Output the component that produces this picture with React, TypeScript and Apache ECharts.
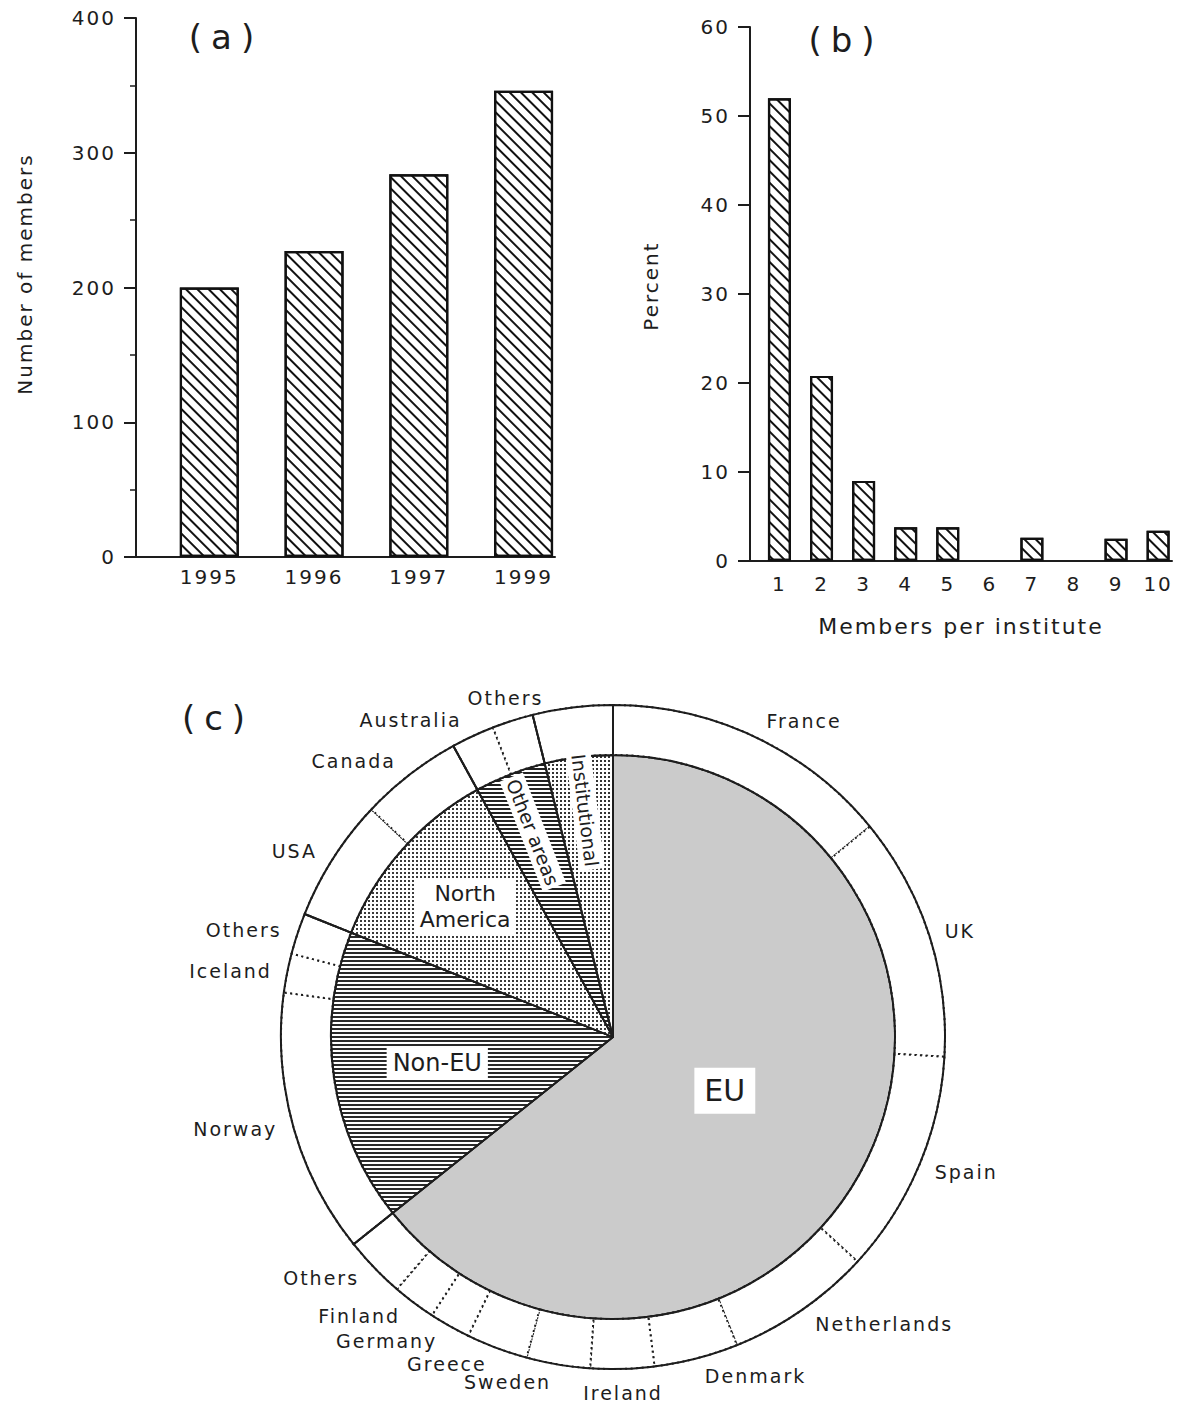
import React, { useEffect, useRef } from 'react';
import * as echarts from 'echarts';

// ---------- Panel (a) ----------
const yearCategories = ['1995', '1996', '1997', '1999'];
const membersByYear = [200, 227, 284, 346];
const membersTicks = [0, 100, 200, 300, 400];

// ---------- Panel (b) ----------
const membersPerInstitute = ['1', '2', '3', '4', '5', '6', '7', '8', '9', '10'];
const percentInstitutes = [52, 20.8, 9, 3.8, 3.8, 0, 2.6, 0, 2.5, 3.4];

// ---------- Panel (c) ----------
const countryNames = [
  'France', 'UK', 'Spain', 'Netherlands', 'Denmark', 'Ireland', 'Sweden', 'Greece',
  'Germany', 'Finland', 'Others',
  'Norway', 'Iceland', 'Others',
  'USA', 'Canada',
  'Australia', 'Others',
  'Institutional',
];
const countryShares = [
  14.1, 11.9, 10.9, 7.1, 4.1, 3.1, 3.1, 3.0, 2.0, 2.1, 3.0,
  12.9, 1.9, 2.0,
  6.0, 5.0,
  2.1, 2.0,
  3.9,
];
const countryGroup = [
  'EU', 'EU', 'EU', 'EU', 'EU', 'EU', 'EU', 'EU', 'EU', 'EU', 'EU',
  'Non-EU', 'Non-EU', 'Non-EU',
  'North America', 'North America',
  'Other areas', 'Other areas',
  'Institutional',
];
const groupNames = ['EU', 'Non-EU', 'North America', 'Other areas', 'Institutional'];
const groupLabels = ['EU', 'Non-EU', 'North\nAmerica', 'Other areas', 'Institutional'];
const groupShares = groupNames.map((g) =>
  countryShares.reduce((s, v, i) => (countryGroup[i] === g ? s + v : s), 0)
);

export default function App() {
  const ref = useRef<HTMLDivElement>(null);

  useEffect(() => {
    const el = ref.current;
    if (!el) return;
    const chart = echarts.init(el, null, { renderer: 'svg' });

    const FONT = '"DejaVu Sans", "Noto Sans", sans-serif';
    const INK = '#1d1d1d';
    const CX = 613;
    const CY = 1037;
    const R_IN = 282;
    const R_OUT = 332;

    const hatch = {
      symbol: 'rect',
      symbolSize: 1,
      dashArrayX: [1, 0],
      dashArrayY: [1.8, 5.6],
      rotation: Math.PI / 4,
      color: '#111',
    };

    const groupFill = ['#cbcbcb', '#ffffff', '#ffffff', '#ffffff', '#ffffff'];
    const groupDecal: any[] = [
      undefined,
      { symbol: 'rect', symbolSize: 1, dashArrayX: [1, 0], dashArrayY: [2, 1.8], rotation: 0, color: '#2a2a2a' },
      { symbol: 'rect', symbolSize: 1, dashArrayX: [1.2, 1.8], dashArrayY: [1.2, 1.8], rotation: 0, color: '#3a3a3a' },
      { symbol: 'rect', symbolSize: 1, dashArrayX: [1, 0], dashArrayY: [1.8, 1.5], rotation: 0, color: '#222' },
      { symbol: 'rect', symbolSize: 1, dashArrayX: [1.3, 1.4], dashArrayY: [1.3, 1.4], rotation: 0, color: '#333' },
    ];
    const labelRadiusFrac = [0.44, 0.63, 0.7, 0.78, 0.81];
    const labelFontSize = [30, 24, 22, 19, 19];
    const labelRadial = [false, false, false, true, true];
    const labelPadding = [[6, 10], [3, 6], [2, 4], [1, 3], [1, 3]];

    // inner (group) labels, placed from the group shares
    const totalShare = groupShares.reduce((a, b) => a + b, 0);
    let acc = 0;
    const groupTextEls = groupNames.map((g, i) => {
      const start = acc;
      acc += groupShares[i];
      const mid = ((start + groupShares[i] / 2) / totalShare) * Math.PI * 2;
      const r = labelRadiusFrac[i] * R_IN;
      return {
        type: 'text',
        x: CX + r * Math.sin(mid),
        y: CY - r * Math.cos(mid),
        rotation: labelRadial[i] ? -(mid + Math.PI / 2) : 0,
        z: 100,
        style: {
          text: groupLabels[i],
          fill: INK,
          fontSize: labelFontSize[i],
          fontFamily: FONT,
          align: 'center',
          verticalAlign: 'middle',
          lineHeight: labelFontSize[i] + 4,
          backgroundColor: '#ffffff',
          padding: labelPadding[i],
        },
      };
    });

    // outer (country) labels, placed from the country shares
    const countryTotal = countryShares.reduce((a, b) => a + b, 0);
    let cAcc = 0;
    const countryTextEls: any[] = [];
    countryNames.forEach((n, i) => {
      const start = cAcc;
      cAcc += countryShares[i];
      if (countryGroup[i] === 'Institutional') return;
      const mid = ((start + countryShares[i] / 2) / countryTotal) * Math.PI * 2;
      const s = Math.sin(mid);
      const c = Math.cos(mid);
      const centered = (c > 0 && Math.abs(s) < 0.35) || Math.abs(s) < 0.06;
      const d = R_OUT + 10 + Math.abs(c) * 8 + (centered ? 6 : 0);
      const px = CX + d * s;
      const py = CY - d * c;
      countryTextEls.push({
        type: 'text',
        x: centered ? px : px + (s > 0 ? 4 : -4),
        y: py,
        z: 100,
        style: {
          text: n,
          fill: INK,
          fontSize: 19,
          fontFamily: FONT,
          align: centered ? 'center' : s > 0 ? 'left' : 'right',
          verticalAlign: 'middle',
        },
      });
    });

    const axisLabelStyle = { fontSize: 20, color: INK, fontFamily: FONT };
    const lineStyle = { color: INK, width: 2 };

    const option: any = {
      animation: false,
      backgroundColor: '#ffffff',
      textStyle: { fontFamily: FONT },
      grid: [
        { left: 136, top: 18, width: 419, height: 539 },
        { left: 750, top: 27, width: 422, height: 534 },
      ],
      xAxis: [
        {
          gridIndex: 0,
          type: 'value',
          min: 0.3,
          max: 4.3,
          axisLine: { show: true, onZero: false, lineStyle },
          axisTick: { show: false },
          splitLine: { show: false },
          axisLabel: {
            ...axisLabelStyle,
            margin: 10,
            customValues: yearCategories.map((_, i) => i + 1),
            formatter: (v: number) => yearCategories[Math.round(v) - 1] ?? '',
          },
        },
        {
          gridIndex: 1,
          type: 'value',
          min: 0.3,
          max: 10.33,
          axisLine: { show: true, onZero: false, lineStyle },
          axisTick: { show: false },
          splitLine: { show: false },
          axisLabel: {
            ...axisLabelStyle,
            margin: 13,
            customValues: membersPerInstitute.map((_, i) => i + 1),
            formatter: (v: number) => membersPerInstitute[Math.round(v) - 1] ?? '',
          },
          name: 'Members per institute',
          nameLocation: 'middle',
          nameGap: 54,
          nameTextStyle: { fontSize: 22, color: INK, fontFamily: FONT },
        },
      ],
      yAxis: [
        {
          gridIndex: 0,
          type: 'value',
          min: membersTicks[0],
          max: membersTicks[membersTicks.length - 1],
          interval: 100,
          axisLine: { show: true, lineStyle },
          axisTick: { show: true, length: 12, lineStyle },
          minorTick: { show: true, splitNumber: 2, length: 6, lineStyle: { color: INK, width: 1.5 } },
          splitLine: { show: false },
          axisLabel: { ...axisLabelStyle, margin: 20 },
        },
        {
          gridIndex: 1,
          type: 'value',
          min: 0,
          max: 60,
          interval: 10,
          axisLine: { show: true, lineStyle },
          axisTick: { show: true, length: 12, lineStyle },
          splitLine: { show: false },
          axisLabel: { ...axisLabelStyle, margin: 20 },
        },
      ],
      series: [
        {
          type: 'bar',
          xAxisIndex: 0,
          yAxisIndex: 0,
          barWidth: 59,
          silent: true,
          itemStyle: { color: '#ffffff', borderColor: '#111', borderWidth: 2.2, decal: hatch },
          data: membersByYear.map((v, i) => [i + 1, v]),
        },
        {
          type: 'bar',
          xAxisIndex: 1,
          yAxisIndex: 1,
          barWidth: 23,
          silent: true,
          itemStyle: { color: '#ffffff', borderColor: '#111', borderWidth: 2.2, decal: hatch },
          data: percentInstitutes.map((v, i) => [i + 1, v]).filter((d) => d[1] > 0),
        },
        {
          type: 'pie',
          center: [CX, CY],
          radius: [0, R_IN],
          startAngle: 90,
          clockwise: true,
          silent: true,
          emphasis: { disabled: true },
          label: { show: false },
          labelLine: { show: false },
          itemStyle: { borderColor: INK, borderWidth: 1.8 },
          data: groupNames.map((n, i) => ({
            name: n,
            value: groupShares[i],
            itemStyle: { color: groupFill[i], decal: groupDecal[i] },
          })),
        },
        {
          type: 'pie',
          center: [CX, CY],
          radius: [R_IN, R_OUT],
          startAngle: 90,
          clockwise: true,
          silent: true,
          emphasis: { disabled: true },
          itemStyle: { color: '#ffffff', borderColor: INK, borderWidth: 2, borderType: [2, 3.5] },
          label: { show: false },
          labelLine: { show: false },
          data: countryNames.map((n, i) => ({ name: n, value: countryShares[i] })),
        },
        {
          type: 'pie',
          center: [CX, CY],
          radius: [R_IN, R_OUT],
          startAngle: 90,
          clockwise: true,
          silent: true,
          emphasis: { disabled: true },
          label: { show: false },
          labelLine: { show: false },
          itemStyle: { color: 'rgba(255,255,255,0)', borderColor: INK, borderWidth: 2 },
          data: groupNames.map((n, i) => ({ name: n, value: groupShares[i] })),
        },
      ],
      graphic: [
        {
          type: 'text', x: 226, y: 37, z: 100,
          style: { text: '(a)', fill: INK, fontSize: 34, fontFamily: FONT, align: 'center', verticalAlign: 'middle' },
        },
        {
          type: 'text', x: 846, y: 40, z: 100,
          style: { text: '(b)', fill: INK, fontSize: 34, fontFamily: FONT, align: 'center', verticalAlign: 'middle' },
        },
        {
          type: 'text', x: 218, y: 718, z: 100,
          style: { text: '(c)', fill: INK, fontSize: 34, fontFamily: FONT, align: 'center', verticalAlign: 'middle' },
        },
        {
          type: 'text', x: 25, y: 274, z: 100, rotation: Math.PI / 2,
          style: { text: 'Number of members', fill: INK, fontSize: 20, fontFamily: FONT, align: 'center', verticalAlign: 'middle' },
        },
        {
          type: 'text', x: 651, y: 286, z: 100, rotation: Math.PI / 2,
          style: { text: 'Percent', fill: INK, fontSize: 20, fontFamily: FONT, align: 'center', verticalAlign: 'middle' },
        },
        ...groupTextEls,
        ...countryTextEls,
      ],
    };

    chart.setOption(option);

    const noSpacing = new Set(groupLabels.flatMap((l) => l.split('\n')));
    const spacing = () => {
      el.querySelectorAll('text').forEach((t) => {
        const s = (t.textContent || '').trim();
        if (noSpacing.has(s)) return;
        const ls = /^\([abc]\)$/.test(s) ? 9 : 2;
        t.setAttribute('letter-spacing', String(ls));
      });
    };
    chart.on('finished', spacing);
    spacing();
    const raf = requestAnimationFrame(spacing);

    return () => {
      cancelAnimationFrame(raf);
      chart.dispose();
    };
  }, []);

  return (
    <div
      ref={ref}
      style={{ position: 'absolute', left: 0, top: 0, width: 1184, height: 1403, background: '#ffffff' }}
    />
  );
}
